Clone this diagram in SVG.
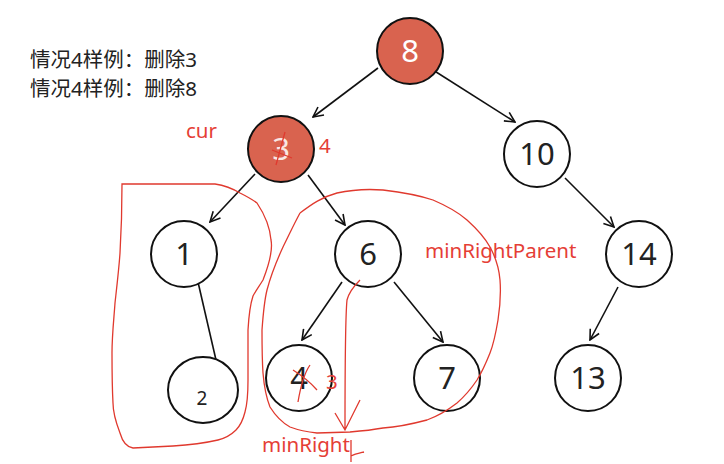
<svg xmlns="http://www.w3.org/2000/svg" width="724" height="464" viewBox="0 0 724 464">
<defs>
<marker id="ah" viewBox="0 0 12 12" refX="11" refY="6" markerWidth="12" markerHeight="12" markerUnits="userSpaceOnUse" orient="auto">
<path d="M1,1 L11,6 L1,11" fill="none" stroke="#111" stroke-width="1.6"/>
</marker>
<style>
.n circle,.n ellipse{fill:#fff;stroke:#111;stroke-width:2}
.n.hl circle{fill:#D9634F}
.n text{font-family:"Noto Sans","Open Sans",sans-serif;font-size:31px;fill:#222;text-anchor:middle}
.n.hl text{fill:#fff}
.e line{stroke:#111;stroke-width:1.6}
.red{fill:none;stroke:#E0392E;stroke-width:1.3}
.rt{font-family:"Noto Sans","Open Sans",sans-serif;fill:#E53E36;font-size:20.5px}
.cap{font-family:"Noto Sans","Noto Sans CJK SC",sans-serif;font-size:20.5px;fill:#222}
</style>
</defs>
<rect width="724" height="464" fill="#fff"/>
<text class="cap" x="30" y="67">情况4样例：删除3</text>
<text class="cap" x="30" y="96">情况4样例：删除8</text>

<g id="connectors" class="e">
<line x1="378" y1="68" x2="313" y2="117" marker-end="url(#ah)"/>
<line x1="433" y1="70" x2="515" y2="122" marker-end="url(#ah)"/>
<line x1="255" y1="174" x2="210" y2="222" marker-end="url(#ah)"/>
<line x1="308" y1="175" x2="345" y2="225" marker-end="url(#ah)"/>
<line x1="198" y1="282" x2="216" y2="360"/>
<line x1="342" y1="282" x2="302" y2="340" marker-end="url(#ah)"/>
<line x1="394" y1="282" x2="443" y2="342" marker-end="url(#ah)"/>
<line x1="565" y1="178" x2="614" y2="227" marker-end="url(#ah)"/>
<line x1="618" y1="287" x2="590" y2="340" marker-end="url(#ah)"/>
</g>

<g id="node8" class="n hl"><circle cx="410" cy="51" r="33"/><text x="410" y="62">8</text></g>
<g id="node3" class="n hl"><circle cx="281" cy="149" r="33"/><text x="281" y="160" opacity="0.85">3</text></g>
<g id="node10" class="n"><circle cx="537" cy="154" r="33"/><text x="537" y="165">10</text></g>
<g id="node1" class="n"><circle cx="184" cy="254" r="33"/><text x="184" y="265">1</text></g>
<g id="node6" class="n"><circle cx="368" cy="254" r="33"/><text x="368" y="265">6</text></g>
<g id="node14" class="n"><circle cx="639" cy="254" r="33"/><text x="639" y="265">14</text></g>
<g id="node2" class="n"><ellipse cx="203" cy="390" rx="35" ry="33"/><text x="202" y="405" style="font-size:19px">2</text></g>
<g id="node4" class="n"><circle cx="299" cy="378" r="33"/><text x="299" y="389">4</text></g>
<g id="node7" class="n"><circle cx="447" cy="378" r="33"/><text x="447" y="389">7</text></g>
<g id="node13" class="n"><circle cx="588" cy="378" r="33"/><text x="588" y="389">13</text></g>

<g id="annotations">
<path class="red" d="M122,184 L215,184 C228,186 235,190 240,193 C248,197 253,200 257,203 C265,215 270,228 271,240 C273,250 270,262 263,280 C258,288 255,292 253,296 C250,305 249,312 248,330 L248,380 C248,395 247,405 245,412 C243,420 240,426 236,430 C232,434 226,438 218,440 C205,443 190,445 173,446 L133,448 C126,447 122,440 120,433 C115,420 113,410 113,403 C112,385 112,365 112,353 C112,335 114,318 115,303 C117,285 119,268 120,253 C121,236 122,215 122,184 Z"/>
<path class="red" d="M300,213 C312,204 322,197 337,193 C355,189 370,189 383,190 C400,192 418,195 433,200 C447,206 458,212 467,220 C477,229 485,238 490,247 C496,258 499,268 500,280 C501,293 500,307 498,320 C496,332 494,343 490,353 C486,363 482,372 477,380 C471,389 465,396 457,403 C448,410 438,416 427,420 C412,424 398,427 383,428 C372,430 362,431 350,432 L317,433 C307,432 298,430 290,427 C281,422 275,415 270,407 C266,397 264,385 263,373 C262,358 262,344 262,330 C263,316 264,302 267,290 C271,275 277,260 283,247 C289,235 294,224 300,213"/>
<path class="red" d="M360,280 C354,286 349,292 347,300 C345,320 345,380 345,430 M335,413 L345,430 L360,400"/>
<path class="red" d="M351,440 L351,462 M351,456 C355,454 360,453 364,452"/>
<path class="red" d="M285,132 L276,165 M272,150 L292,158"/>
<path class="red" d="M310,365 C303,375 300,390 298,402 M293,370 C301,375 310,382 317,390"/>
<text class="rt" x="186" y="138">cur</text>
<text class="rt" x="319" y="153">4</text>
<text class="rt" x="326" y="389">3</text>
<text class="rt" x="425" y="258">minRightParent</text>
<text class="rt" x="262" y="452">minRight</text>
</g>
</svg>
